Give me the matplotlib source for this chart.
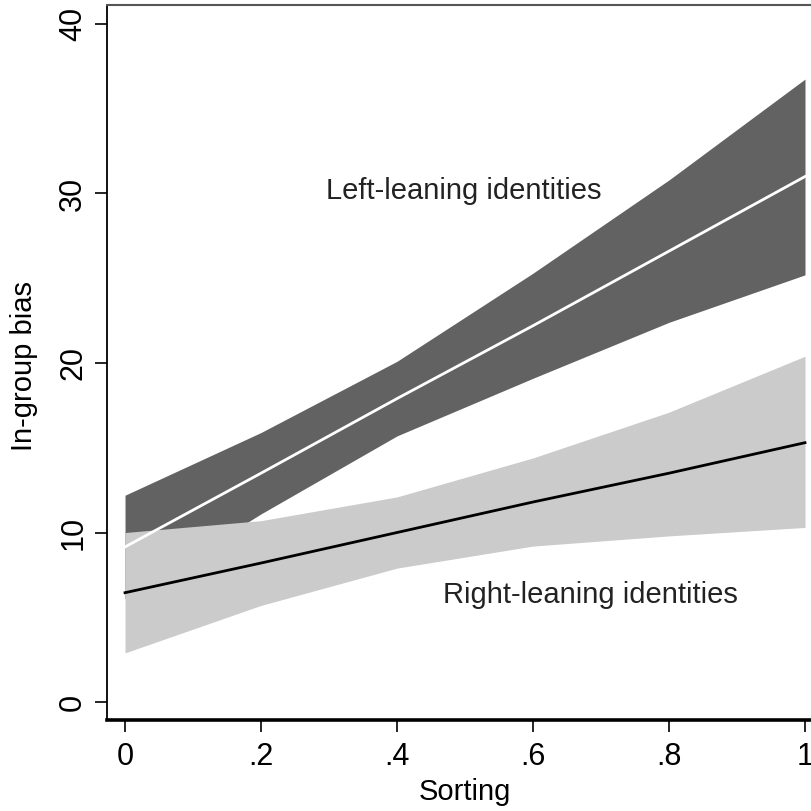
import matplotlib.pyplot as plt

# margins grid for sorting
sorting = [0, .2, .4, .6, .8, 1]

# left-leaning identities: prediction and 95% band
left_fit = [9.15, 13.5, 17.9, 22.2, 26.6, 31.0]
left_hi = [12.2, 15.9, 20.1, 25.3, 30.8, 36.75]
left_lo = [6.1, 11.1, 15.7, 19.1, 22.4, 25.2]

# right-leaning identities
right_fit = [6.45, 8.2, 10.0, 11.8, 13.5, 15.3]
right_hi = [10.0, 10.7, 12.1, 14.4, 17.1, 20.4]
right_lo = [2.9, 5.7, 7.9, 9.2, 9.8, 10.3]

xticks = [0, .2, .4, .6, .8, 1]
xtick_labels = ['0', '.2', '.4', '.6', '.8', '1']
yticks = [0, 10, 20, 30, 40]

plt.rcParams['font.family'] = ['Liberation Sans', 'DejaVu Sans']

fig = plt.figure(figsize=(8.12, 8.11), dpi=100)
ax = fig.add_axes([107/812, 1 - 720/811, 705/812, 715/811])

ax.fill_between(sorting, left_lo, left_hi, color='#626262', lw=0, zorder=1)
ax.fill_between(sorting, right_lo, right_hi, color='#cbcbcb', lw=0, zorder=2)
ax.plot(sorting, left_fit, color='white', lw=2, zorder=3)
ax.plot(sorting, right_fit, color='black', lw=2, zorder=3)

ax.text(0.498, 29.7, 'Left-leaning identities', fontsize=21, ha='center', va='baseline', color='#222222')
ax.text(0.684, 5.85, 'Right-leaning identities', fontsize=21, ha='center', va='baseline', color='#222222')

ax.set_xlim(-0.0265, 1.0103)
ax.set_ylim(-1.06, 41.12)
ax.set_xticks(xticks)
ax.set_xticklabels(xtick_labels)
ax.set_yticks(yticks)
ax.set_yticklabels([str(v) for v in yticks], rotation=90, va='center')
ax.tick_params(axis='both', direction='out', length=8.5, width=1.2, labelsize=22, colors='black')
ax.tick_params(axis='x', pad=7)
ax.tick_params(axis='y', pad=5)

ax.spines['left'].set_linewidth(1.3)
ax.spines['bottom'].set_linewidth(2.6)
ax.spines['top'].set_color('#555555')
ax.spines['top'].set_linewidth(1.5)
ax.spines['right'].set_visible(False)

ax.set_xlabel('Sorting', fontsize=21)
ax.set_ylabel('In-group bias', fontsize=21)
ax.xaxis.set_label_coords(0.508, -0.081)
ax.yaxis.set_label_coords(-0.098, 0.495)

fig.savefig('out.png', dpi=100)
